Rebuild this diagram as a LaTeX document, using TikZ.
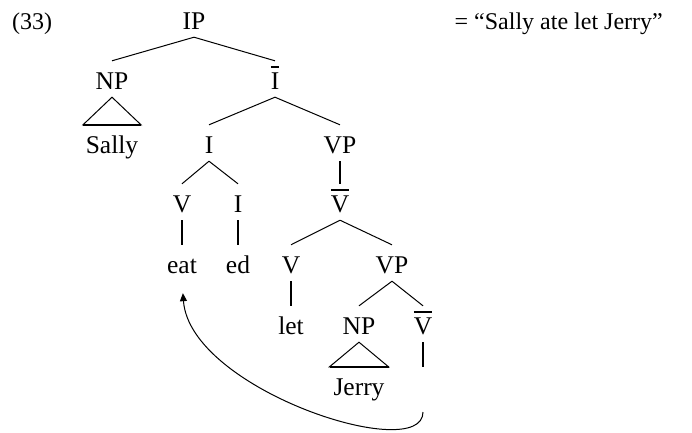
\documentclass[tikz,border=0pt]{standalone}
\usepackage{fontspec}
\setmainfont{Liberation Serif}
\usetikzlibrary{arrows.meta}
\newcommand\barcat[1]{\setbox0\hbox{#1}\rlap{\raisebox{\dimexpr\ht0+4bp\relax}{\rule{\wd0}{2.4bp}}}\box0}

\begin{document}
\begin{tikzpicture}[x=1bp,y=-1bp, every node/.style={font=\fontsize{24bp}{28bp}\selectfont},
    cat/.style={anchor=base, inner sep=0pt, inner ysep=8bp, text height=20bp, text depth=0pt, font=\fontsize{25.5bp}{30bp}\selectfont},
    branch/.style={line width=1bp},
    unary/.style={line width=1.5bp},
    roof/.style={line width=1bp, line join=miter},
    roofbase/.style={line width=2bp}]
    \useasboundingbox (0,0) rectangle (692,432);
    \node[anchor=base west, inner sep=0pt] (exnum) at (12,29) {(33)};
    \node[anchor=base east, inner sep=0pt] (gloss) at (663,29) {= “Sally ate let Jerry”};
    \node[cat] (ip) at (194,29) {IP};
    \node[cat] (np1) at (112,89) {NP};
    \node[cat] (ibar) at (275,89) {\barcat{I}};
    \node[cat] (sally) at (112,153) {Sally};
    \node[cat] (i1) at (209,153) {I};
    \node[cat] (vp1) at (340,153) {VP};
    \node[cat] (v1) at (182,212) {V};
    \node[cat] (i2) at (238,212) {I};
    \node[cat] (vbar1) at (340,212) {\barcat{V}};
    \node[cat] (eat) at (182,273) {eat};
    \node[cat] (ed) at (238,273) {ed};
    \node[cat] (v2) at (291,273) {V};
    \node[cat] (vp2) at (392,273) {VP};
    \node[cat] (let) at (291,334) {let};
    \node[cat] (np2) at (359,334) {NP};
    \node[cat] (vbar2) at (423,334) {\barcat{V}};
    \node[cat] (jerry) at (359,395) {Jerry};
    \coordinate (trace) at (423,412);
    \draw[branch] (ip.south) -- (np1.north);
    \draw[branch] (ip.south) -- (ibar.north);
    \draw[roof] (np1.south) -- ([xshift=-29bp]sally.north) -- ([xshift=29bp]sally.north) -- cycle;
    \draw[roofbase] ([xshift=-29bp]sally.north) -- ([xshift=29bp]sally.north);
    \draw[branch] (ibar.south) -- (i1.north);
    \draw[branch] (ibar.south) -- (vp1.north);
    \draw[branch] (i1.south) -- (v1.north);
    \draw[branch] (i1.south) -- (i2.north);
    \draw[unary] (vp1.south) -- (vbar1.north);
    \draw[unary] (v1.south) -- (eat.north);
    \draw[unary] (i2.south) -- (ed.north);
    \draw[branch] (vbar1.south) -- (v2.north);
    \draw[branch] (vbar1.south) -- (vp2.north);
    \draw[unary] (v2.south) -- (let.north);
    \draw[branch] (vp2.south) -- (np2.north);
    \draw[branch] (vp2.south) -- (vbar2.north);
    \draw[roof] (np2.south) -- ([xshift=-29.5bp]jerry.north) -- ([xshift=29.5bp]jerry.north) -- cycle;
    \draw[roofbase] ([xshift=-29.5bp]jerry.north) -- ([xshift=29.5bp]jerry.north);
    \draw[unary] (vbar2.south) -- (vbar2.south |- jerry.north);
    \draw[branch, -{Triangle[length=8bp,width=7bp]}, shorten >=12bp] (trace) .. controls (423,465) and (190,390) .. (eat.south);
  \end{tikzpicture}
\end{document}
